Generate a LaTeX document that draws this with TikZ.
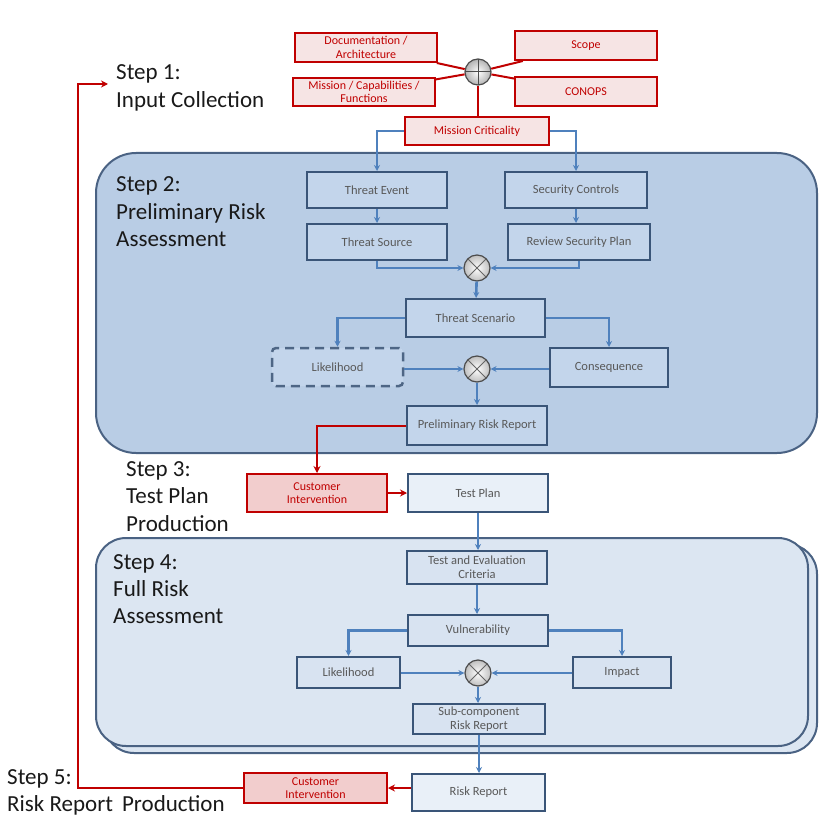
\documentclass[tikz,border=0pt]{standalone}
\usepackage{fontspec}
\setmainfont{Carlito}
\usetikzlibrary{arrows.meta,calc}
\definecolor{rline}{HTML}{C00000}
\definecolor{rfill}{HTML}{F6E4E4}
\definecolor{cifill}{HTML}{F2CDCD}
\definecolor{bline}{HTML}{4F81BD}
\definecolor{bborder}{HTML}{3A5578}
\definecolor{stwofill}{HTML}{B9CDE5}
\definecolor{stwobox}{HTML}{C3D5EB}
\definecolor{sfourfill}{HTML}{DCE6F2}
\definecolor{sfourbox}{HTML}{D8E3F1}
\definecolor{lightbox}{HTML}{E9F0F8}
\definecolor{panelborder}{HTML}{4A6283}
\tikzset{
  x=1pt,y=-1pt,
  redbox/.style={draw=rline,line width=2pt,fill=rfill,text=rline,font=\fontsize{12}{13.5}\selectfont,align=center,inner sep=1pt},
  cibox/.style={redbox,fill=cifill},
  bluebox/.style={draw=bborder,line width=2pt,fill=stwobox,text=black!65,font=\fontsize{12.5}{14}\selectfont,align=center,inner sep=1pt},
  fourbox/.style={bluebox,fill=sfourbox},
  litebox/.style={bluebox,fill=lightbox},
  xcirc/.style={circle,draw=black!70,line width=1.2pt,inner sep=0pt,minimum size=26pt,
     inner color=white,outer color=black!25,
     path picture={\draw[black!60,line width=1pt] (path picture bounding box.north west) -- (path picture bounding box.south east)
       (path picture bounding box.north east) -- (path picture bounding box.south west);}},
  pcirc/.style={circle,draw=black!70,line width=1.2pt,inner sep=0pt,minimum size=26pt,
     inner color=white,outer color=black!30,
     path picture={\draw[black!70,line width=1pt] (path picture bounding box.north) -- (path picture bounding box.south)
       (path picture bounding box.east) -- (path picture bounding box.west);}},
  bconn/.style={draw=bline,line width=2.6pt,-{Stealth[length=6pt,width=6pt]}},
  rconn/.style={draw=rline,line width=2pt,-{Stealth[length=7pt,width=7pt]}},
  rplain/.style={draw=rline,line width=2pt},
  steplbl/.style={anchor=base west,inner sep=0pt,font=\fontsize{23}{26}\selectfont,text=black!90},
  panel/.style={draw=panelborder,line width=2pt}
}
\begin{document}
\begin{tikzpicture}
\useasboundingbox (0,0) rectangle (825,824);
% panels
\path[panel,fill=stwofill,rounded corners=40pt] (96,153) rectangle (817,453);
\path[panel,fill=sfourfill,rounded corners=30pt] (104,544) rectangle (817,753);
\path[panel,fill=sfourfill,rounded corners=30pt] (96,538) rectangle (808,746);

% step labels
\node[steplbl] (s1a) at (116,80) {Step 1:};
\node[steplbl] (s1b) at (116,108) {Input Collection};
\node[steplbl] (s2a) at (116,191) {Step 2:};
\node[steplbl] (s2b) at (116,219) {Preliminary Risk};
\node[steplbl] (s2c) at (116,246) {Assessment};
\node[steplbl] (s3a) at (126,476) {Step 3:};
\node[steplbl] (s3b) at (126,503) {Test Plan};
\node[steplbl] (s3c) at (126,531) {Production};
\node[steplbl] (s4a) at (113,569) {Step 4:};
\node[steplbl] (s4b) at (113,596) {Full Risk};
\node[steplbl] (s4c) at (113,623) {Assessment};
\node[steplbl] (s5a) at (7,784) {Step 5:};
\node[steplbl] (s5b) at (7,811) {Risk Report\, Production};

% step 1 nodes
\node[pcirc] (plus) at (478,72) {};
\node[redbox,minimum width=142pt,minimum height=29pt] (doc) at (366,47.5) {Documentation /\\Architecture};
\node[redbox,minimum width=142pt,minimum height=28pt] (mcf) at (364,92) {Mission / Capabilities /\\Functions};
\node[redbox,minimum width=142pt,minimum height=29pt] (scope) at (586,45.5) {Scope};
\node[redbox,minimum width=142pt,minimum height=29pt] (conops) at (586,91.5) {CONOPS};
\node[redbox,minimum width=144pt,minimum height=28pt] (mc) at (477,131) {Mission Criticality};
\draw[rplain] (plus) -- (doc);
\draw[rplain] (plus) -- (mcf);
\draw[rplain] (plus) -- (scope);
\draw[rplain] (plus) -- (conops);
\draw[rplain] (plus) -- (plus |- mc.north);

% step 2 nodes
\node[bluebox,minimum width=140pt,minimum height=36pt] (te) at (377,190) {Threat Event};
\node[bluebox,minimum width=142pt,minimum height=36pt] (sc) at (576,190) {Security Controls};
\node[bluebox,minimum width=140pt,minimum height=36pt] (ts) at (377,242) {Threat Source};
\node[bluebox,minimum width=142pt,minimum height=36pt] (rsp) at (579,242) {Review Security Plan};
\node[xcirc] (xa) at (477,268) {};
\node[bluebox,minimum width=139pt,minimum height=38pt] (tsc) at (475.5,318) {Threat Scenario};
\node[bluebox,draw=bborder!90,dash pattern=on 9pt off 6pt,line width=2.5pt,rounded corners=4pt,minimum width=131pt,minimum height=38pt] (lha) at (337.5,367) {Likelihood};
\node[xcirc] (xb) at (477,369) {};
\node[bluebox,minimum width=118pt,minimum height=39pt] (cons) at (609,367.5) {Consequence};
\node[bluebox,minimum width=140pt,minimum height=39pt] (prr) at (477,425.5) {Preliminary Risk Report};

\draw[bconn] (mc.west) -| (te.north);
\draw[bconn] (mc.east) -| (sc.north);
\draw[bconn] (te) -- (ts);
\draw[bconn] (sc.south) -- (sc.south |- rsp.north);
\draw[bconn] (ts.south) |- (xa.west);
\draw[bconn] (rsp.south) |- (xa.east);
\draw[bconn] (xa) -- (tsc);
\draw[bconn] (tsc.west) -| (lha.north);
\draw[bconn] (tsc.east) -| (cons.north);
\draw[bconn] (lha.east |- xb) -- (xb.west);
\draw[bconn] (cons.west |- xb) -- (xb.east);
\draw[bconn] (xb) -- (prr);

% step 3
\node[cibox,minimum width=140pt,minimum height=38pt] (cia) at (317,493) {Customer\\Intervention};
\node[litebox,minimum width=140pt,minimum height=38pt] (tp) at (478,493) {Test Plan};
\draw[rconn] (prr.west) -| (cia.north);
\draw[rconn] (cia) -- (tp);

% step 4
\node[fourbox,minimum width=140pt,minimum height=33pt] (tec) at (477,567.5) {Test and Evaluation\\Criteria};
\node[fourbox,minimum width=140pt,minimum height=31pt] (vul) at (478,630.5) {Vulnerability};
\node[fourbox,minimum width=103pt,minimum height=31pt] (lhb) at (348.5,672.5) {Likelihood};
\node[xcirc] (xc) at (478,673) {};
\node[fourbox,minimum width=98pt,minimum height=31pt] (imp) at (622,672.5) {Impact};
\node[fourbox,minimum width=132pt,minimum height=30pt] (scr) at (479,719) {Sub-component\\Risk Report};
\draw[bconn] (tp.south) -- (tp.south |- tec.north);
\draw[bconn] (tec.south) -- (tec.south |- vul.north);
\draw[bconn] (vul.west) -| (lhb.north);
\draw[bconn] (vul.east) -| (imp.north);
\draw[bconn] (lhb.east |- xc) -- (xc.west);
\draw[bconn] (imp.west |- xc) -- (xc.east);
\draw[bconn] (xc.south) -- (xc.south |- scr.north);

% step 5
\node[litebox,minimum width=133pt,minimum height=37pt] (rr) at (478.5,792.5) {Risk Report};
\node[cibox,minimum width=143pt,minimum height=30pt] (cib) at (315.5,788) {Customer\\Intervention};
\draw[bconn] (scr.south) -- (scr.south |- rr.north);
\draw[rconn] (rr.west |- cib) -- (cib.east);
\coordinate (corner) at (78,84);
\coordinate (tipend) at (108,84);
\draw[rconn] (cib.west) -| (corner) -- (tipend);
\end{tikzpicture}
\end{document}
